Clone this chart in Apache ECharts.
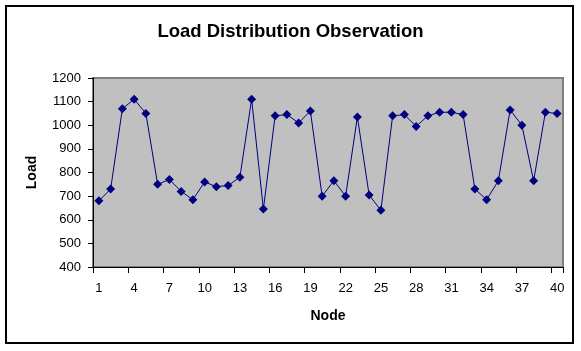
<!DOCTYPE html>
<html>
<head>
<meta charset="utf-8">
<script src="https://cdn.jsdelivr.net/npm/echarts@6/dist/echarts.min.js"></script>
<style>
html,body{margin:0;padding:0;background:#fff;}
#chart{width:581px;height:351px;}
</style>
</head>
<body>
<div id="chart"></div>
<script>
const nodes = Array.from({length: 40}, (_, i) => String(i + 1));
const loads = [680, 730, 1070, 1110, 1050, 750, 770, 720, 685, 760,
               740, 745, 780, 1110, 645, 1040, 1045, 1010, 1060, 700,
               765, 700, 1035, 705, 640, 1040, 1045, 995, 1040, 1055,
               1055, 1045, 730, 685, 765, 1065, 1000, 765, 1055, 1050];
const yTicks = [400, 500, 600, 700, 800, 900, 1000, 1100, 1200];

const FONT = '"Liberation Sans", Arial, sans-serif';
const chart = echarts.init(document.getElementById('chart'), null, {renderer: 'canvas'});
chart.setOption({
  backgroundColor: '#ffffff',
  animation: false,
  title: {
    text: 'Load Distribution Observation',
    left: 'center',
    top: 17,
    textStyle: {fontFamily: FONT, fontSize: 18.5, fontWeight: 'bold', color: '#000'}
  },
  graphic: [{
    type: 'rect',
    shape: {x: 6, y: 6, width: 567, height: 337},
    style: {fill: 'none', stroke: '#000', lineWidth: 2},
    silent: true
  }],
  grid: {
    left: 93, top: 78, right: 18, bottom: 84,
    show: true,
    backgroundColor: '#c0c0c0',
    borderColor: '#808080',
    borderWidth: 2
  },
  xAxis: {
    type: 'category',
    data: nodes,
    boundaryGap: true,
    name: 'Node',
    nameLocation: 'middle',
    nameGap: 42,
    nameTextStyle: {fontFamily: FONT, fontSize: 14, fontWeight: 'bold', color: '#000'},
    axisLine: {lineStyle: {color: '#000', width: 1}},
    axisTick: {show: true, interval: 2, length: 6, lineStyle: {color: '#000'}},
    axisLabel: {interval: 2, margin: 15, fontFamily: FONT, fontSize: 13, color: '#000'},
    splitLine: {show: false}
  },
  yAxis: {
    type: 'value',
    min: yTicks[0],
    max: yTicks[yTicks.length - 1],
    interval: 100,
    name: 'Load',
    nameLocation: 'middle',
    nameGap: 54,
    nameTextStyle: {fontFamily: FONT, fontSize: 14, fontWeight: 'bold', color: '#000'},
    axisLine: {show: true, lineStyle: {color: '#000', width: 1}},
    axisTick: {show: true, length: 5, lineStyle: {color: '#000'}},
    axisLabel: {margin: 12, fontFamily: FONT, fontSize: 13, color: '#000', formatter: v => String(v)},
    splitLine: {show: false}
  },
  series: [{
    type: 'line',
    data: loads,
    symbol: 'diamond',
    symbolSize: 9,
    showAllSymbol: true,
    lineStyle: {color: '#000080', width: 1},
    itemStyle: {color: '#000080'}
  }]
});
</script>
</body>
</html>
